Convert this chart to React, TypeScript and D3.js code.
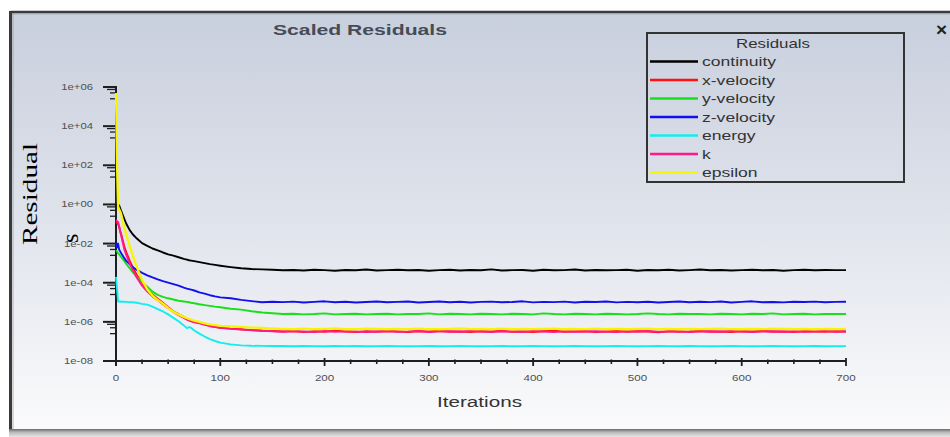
import React from 'react';
import * as d3 from 'd3';

// ---------- data ----------
const earlyIterations = [0, 1, 2, 3, 4, 5, 8, 10, 13, 16, 20, 25, 30, 35, 40, 45, 50, 55, 60, 65, 68, 70, 72, 75, 80, 85, 90, 95];
const lateIterations = [
  100, 110, 120, 130, 140, 150, 160, 170, 180, 190, 200, 210, 220, 230, 240, 250,
  260, 270, 280, 290, 300, 310, 320, 330, 340, 350, 360, 370, 380, 390, 400, 410,
  420, 430, 440, 450, 460, 470, 480, 490, 500, 510, 520, 530, 540, 550, 560, 570,
  580, 590, 600, 610, 620, 630, 640, 650, 660, 670, 680, 690, 700,
];

const continuityEarly = [0.89, 0.95, 1.0, 0.89, 0.63, 0.45, 0.18, 0.1, 0.05, 0.03, 0.018, 0.0105, 0.0076, 0.0056, 0.0045, 0.0035, 0.0028, 0.0024, 0.002, 0.00166, 0.0015, 0.0014, 0.00135, 0.00126, 0.00112, 0.001, 0.00089, 0.00081];
const continuityLate = [
  7.4e-4, 6.3e-4, 5.5e-4, 5.0e-4, 4.8e-4, 4.6e-4,
  4.3e-4, 4.5e-4, 4.2e-4, 4.6e-4, 4.4e-4, 4.1e-4, 4.5e-4, 4.3e-4, 4.7e-4, 4.2e-4,
  4.4e-4, 4.6e-4, 4.3e-4, 4.5e-4, 4.1e-4, 4.4e-4, 4.6e-4, 4.2e-4, 4.5e-4, 4.3e-4,
  4.8e-4, 4.2e-4, 4.4e-4, 4.5e-4, 4.1e-4, 4.6e-4, 4.3e-4, 4.4e-4, 4.7e-4, 4.2e-4,
  4.5e-4, 4.3e-4, 4.4e-4, 4.6e-4, 4.1e-4, 4.5e-4, 4.3e-4, 4.6e-4, 4.2e-4, 4.4e-4,
  4.7e-4, 4.3e-4, 4.5e-4, 4.2e-4, 4.4e-4, 4.6e-4, 4.3e-4, 4.5e-4, 4.1e-4, 4.4e-4,
  4.6e-4, 4.3e-4, 4.5e-4, 4.4e-4, 4.4e-4,
];

const xVelocityEarly = [0.126, 0.112, 0.1, 0.07, 0.045, 0.03, 0.0071, 0.0035, 0.0014, 6.3e-4, 2.5e-4, 1.0e-4, 4.5e-5, 2.5e-5, 1.5e-5, 9.5e-6, 5.6e-6, 3.5e-6, 2.5e-6, 1.8e-6, 1.4e-6, 1.26e-6, 1.12e-6, 1.0e-6, 8.9e-7, 7.6e-7, 6.3e-7, 5.6e-7];
const xVelocityLate = [
  5.0e-7, 4.5e-7, 4.2e-7, 3.8e-7, 3.5e-7, 3.4e-7,
  3.2e-7, 3.4e-7, 3.0e-7, 3.3e-7, 3.1e-7, 3.5e-7, 3.2e-7, 3.0e-7, 3.3e-7, 3.1e-7,
  3.4e-7, 3.2e-7, 3.0e-7, 3.3e-7, 3.2e-7, 3.5e-7, 3.1e-7, 3.2e-7, 3.0e-7, 3.3e-7,
  3.2e-7, 3.4e-7, 3.1e-7, 3.2e-7, 3.0e-7, 3.3e-7, 3.5e-7, 3.1e-7, 3.2e-7, 3.3e-7,
  3.0e-7, 3.2e-7, 3.4e-7, 3.1e-7, 3.3e-7, 3.2e-7, 2.9e-7, 3.3e-7, 3.1e-7, 3.2e-7,
  3.4e-7, 3.1e-7, 3.2e-7, 3.0e-7, 3.3e-7, 3.2e-7, 3.4e-7, 3.1e-7, 3.2e-7, 3.0e-7,
  3.3e-7, 3.2e-7, 3.1e-7, 3.3e-7, 3.2e-7,
];

const yVelocityEarly = [4.5e-3, 4.0e-3, 3.2e-3, 2.8e-3, 2.4e-3, 2.0e-3, 1.26e-3, 8.9e-4, 5.6e-4, 3.5e-4, 2.0e-4, 1.05e-4, 6.3e-5, 3.5e-5, 2.4e-5, 1.9e-5, 1.6e-5, 1.38e-5, 1.2e-5, 1.1e-5, 1.05e-5, 1.0e-5, 9.5e-6, 8.9e-6, 7.9e-6, 7.2e-6, 6.6e-6, 6.0e-6];
const yVelocityLate = [
  5.6e-6, 4.7e-6, 4.2e-6, 3.5e-6, 3.0e-6, 2.75e-6,
  2.5e-6, 2.6e-6, 2.4e-6, 2.5e-6, 2.7e-6, 2.4e-6, 2.5e-6, 2.6e-6, 2.4e-6, 2.5e-6,
  2.6e-6, 2.4e-6, 2.5e-6, 2.5e-6, 2.7e-6, 2.4e-6, 2.6e-6, 2.5e-6, 2.4e-6, 2.6e-6,
  2.5e-6, 2.4e-6, 2.6e-6, 2.5e-6, 2.4e-6, 2.7e-6, 2.5e-6, 2.4e-6, 2.6e-6, 2.5e-6,
  2.4e-6, 2.6e-6, 2.5e-6, 2.4e-6, 2.5e-6, 2.7e-6, 2.5e-6, 2.4e-6, 2.6e-6, 2.5e-6,
  2.5e-6, 2.4e-6, 2.6e-6, 2.5e-6, 2.4e-6, 2.6e-6, 2.5e-6, 2.7e-6, 2.4e-6, 2.5e-6,
  2.6e-6, 2.4e-6, 2.5e-6, 2.5e-6, 2.5e-6,
];

const zVelocityEarly = [1.1e-2, 6.3e-3, 1.0e-2, 5.0e-3, 4.0e-3, 3.2e-3, 1.8e-3, 1.26e-3, 8.9e-4, 6.3e-4, 4.5e-4, 3.2e-4, 2.4e-4, 1.86e-4, 1.48e-4, 1.2e-4, 1.02e-4, 8.5e-5, 7.1e-5, 5.6e-5, 5.0e-5, 4.7e-5, 4.4e-5, 4.0e-5, 3.2e-5, 2.75e-5, 2.3e-5, 2.0e-5];
const zVelocityLate = [
  1.78e-5, 1.6e-5, 1.32e-5, 1.15e-5, 1.0e-5, 1.07e-5,
  1.02e-5, 1.08e-5, 0.98e-5, 1.05e-5, 1.12e-5, 1.0e-5, 1.06e-5, 0.97e-5, 1.04e-5, 1.1e-5,
  1.0e-5, 1.05e-5, 1.09e-5, 0.98e-5, 1.04e-5, 1.1e-5, 1.01e-5, 1.06e-5, 0.97e-5, 1.05e-5,
  1.08e-5, 1.0e-5, 1.04e-5, 1.12e-5, 0.99e-5, 1.05e-5, 1.02e-5, 1.08e-5, 0.98e-5, 1.06e-5,
  1.03e-5, 1.1e-5, 0.99e-5, 1.05e-5, 1.01e-5, 1.07e-5, 0.97e-5, 1.04e-5, 1.09e-5, 1.0e-5,
  1.06e-5, 1.02e-5, 1.1e-5, 0.98e-5, 1.05e-5, 1.12e-5, 1.0e-5, 1.04e-5, 0.99e-5, 1.07e-5,
  1.03e-5, 1.08e-5, 1.0e-5, 1.05e-5, 1.06e-5,
];

const energyEarly = [2.0e-4, 5.0e-5, 1.12e-5, 1.1e-5, 1.1e-5, 1.07e-5, 1.07e-5, 1.05e-5, 1.02e-5, 1.0e-5, 9.5e-6, 8.3e-6, 7.6e-6, 6.0e-6, 4.5e-6, 3.4e-6, 2.4e-6, 1.6e-6, 1.07e-6, 6.6e-7, 4.8e-7, 5.4e-7, 5.0e-7, 3.6e-7, 2.5e-7, 1.78e-7, 1.32e-7, 1.05e-7];
const energyLate = [
  8.7e-8, 7.1e-8, 6.3e-8, 6.0e-8, 5.9e-8, 5.8e-8,
  5.8e-8, 5.7e-8, 5.8e-8, 5.75e-8, 5.7e-8, 5.8e-8, 5.75e-8, 5.8e-8, 5.7e-8, 5.75e-8,
  5.8e-8, 5.75e-8, 5.7e-8, 5.75e-8, 5.8e-8, 5.7e-8, 5.75e-8, 5.8e-8, 5.75e-8, 5.7e-8,
  5.75e-8, 5.8e-8, 5.7e-8, 5.75e-8, 5.8e-8, 5.75e-8, 5.7e-8, 5.75e-8, 5.8e-8, 5.75e-8,
  5.7e-8, 5.75e-8, 5.8e-8, 5.75e-8, 5.7e-8, 5.75e-8, 5.8e-8, 5.75e-8, 5.7e-8, 5.8e-8,
  5.75e-8, 5.7e-8, 5.75e-8, 5.8e-8, 5.75e-8, 5.7e-8, 5.75e-8, 5.8e-8, 5.75e-8, 5.7e-8,
  5.75e-8, 5.8e-8, 5.7e-8, 5.75e-8, 5.75e-8,
];

const kEarly = [0.16, 0.14, 0.126, 0.079, 0.04, 0.025, 0.005, 0.0025, 0.001, 4.5e-4, 1.78e-4, 7.1e-5, 3.5e-5, 2.0e-5, 1.26e-5, 8.0e-6, 5.0e-6, 3.2e-6, 2.2e-6, 1.6e-6, 1.3e-6, 1.17e-6, 1.07e-6, 9.5e-7, 8.3e-7, 7.1e-7, 6.0e-7, 5.4e-7];
const kLate = [
  4.9e-7, 4.4e-7, 4.0e-7, 3.7e-7, 3.5e-7, 3.3e-7,
  3.1e-7, 3.3e-7, 3.2e-7, 3.0e-7, 3.4e-7, 3.1e-7, 3.3e-7, 3.2e-7, 3.0e-7, 3.2e-7,
  3.3e-7, 3.1e-7, 3.2e-7, 3.4e-7, 3.0e-7, 3.2e-7, 3.3e-7, 3.1e-7, 3.4e-7, 3.2e-7,
  3.0e-7, 3.3e-7, 3.2e-7, 3.1e-7, 3.4e-7, 3.2e-7, 3.0e-7, 3.3e-7, 3.1e-7, 3.2e-7,
  3.3e-7, 3.1e-7, 3.0e-7, 3.3e-7, 3.2e-7, 3.4e-7, 3.1e-7, 3.2e-7, 3.3e-7, 3.0e-7,
  3.2e-7, 3.3e-7, 3.1e-7, 3.4e-7, 3.2e-7, 3.0e-7, 3.2e-7, 3.3e-7, 3.1e-7, 3.3e-7,
  3.1e-7, 3.2e-7, 3.4e-7, 3.1e-7, 3.2e-7,
];

const epsilonEarly = [5.0e5, 100, 0.8, 0.56, 0.45, 0.32, 0.063, 0.028, 0.0079, 0.0025, 6.3e-4, 1.4e-4, 4.5e-5, 2.2e-5, 1.3e-5, 8.5e-6, 5.0e-6, 3.3e-6, 2.4e-6, 1.8e-6, 1.55e-6, 1.4e-6, 1.3e-6, 1.17e-6, 1.0e-6, 8.3e-7, 7.4e-7, 6.8e-7];
const epsilonLate = [
  6.3e-7, 5.9e-7, 5.5e-7, 5.1e-7, 4.9e-7, 4.7e-7,
  4.4e-7, 4.2e-7, 4.5e-7, 4.3e-7, 4.4e-7, 4.6e-7, 4.2e-7, 4.3e-7, 4.5e-7, 4.4e-7,
  4.2e-7, 4.4e-7, 4.3e-7, 4.5e-7, 4.3e-7, 4.2e-7, 4.4e-7, 4.6e-7, 4.3e-7, 4.4e-7,
  4.3e-7, 4.5e-7, 4.2e-7, 4.4e-7, 4.3e-7, 4.4e-7, 4.5e-7, 4.2e-7, 4.4e-7, 4.3e-7,
  4.5e-7, 4.3e-7, 4.4e-7, 4.2e-7, 4.4e-7, 4.5e-7, 4.3e-7, 4.4e-7, 4.2e-7, 4.4e-7,
  4.3e-7, 4.4e-7, 4.5e-7, 4.3e-7, 4.2e-7, 4.4e-7, 4.3e-7, 4.5e-7, 4.4e-7, 4.3e-7,
  4.4e-7, 4.2e-7, 4.4e-7, 4.3e-7, 4.4e-7,
];

const seriesNames = ['continuity', 'x-velocity', 'y-velocity', 'z-velocity', 'energy', 'k', 'epsilon'];
const seriesColors = ['#000000', '#ff1010', '#18e018', '#1010f0', '#10eeee', '#ff1a8c', '#f6f600'];
const seriesEarly = [continuityEarly, xVelocityEarly, yVelocityEarly, zVelocityEarly, energyEarly, kEarly, epsilonEarly];
const seriesLate = [continuityLate, xVelocityLate, yVelocityLate, zVelocityLate, energyLate, kLate, epsilonLate];

const yTickValues = [1e6, 1e4, 1e2, 1e0, 1e-2, 1e-4, 1e-6, 1e-8];
const yTickLabels = ['1e+06', '1e+04', '1e+02', '1e+00', '1e-02', '1e-04', '1e-06', '1e-08'];
const xTickValues = [0, 100, 200, 300, 400, 500, 600, 700];
const xMinorValues = [25, 50, 75, 125, 150, 175, 225, 250, 275, 325, 350, 375, 425, 450, 475, 525, 550, 575, 625, 650, 675];
const yMinorFactors = [0.75, 0.5, 0.25];

const W = 950;
const H = 437;
const SX = 1.35; // horizontal text stretch seen in the reference

export default function App() {
  const x = d3.scaleLinear().domain([0, 700]).range([116, 846]);
  const y = d3.scaleLog().domain([1e-8, 1e6]).range([361, 87]);
  const line = d3
    .line<[number, number]>()
    .x((d) => x(d[0]))
    .y((d) => y(d[1]));

  const series = seriesNames.map((name, i) => {
    const pts: [number, number][] = [];
    earlyIterations.forEach((it, j) => pts.push([it, seriesEarly[i][j]]));
    lateIterations.forEach((it, j) => {
      if (j < seriesLate[i].length) pts.push([it, seriesLate[i][j]]);
    });
    return { name, color: seriesColors[i], pts };
  });

  const legendX = 647;
  const legendY = 33;
  const rowH = 18.5;

  return (
    <svg
      width={W}
      height={H}
      viewBox={`0 0 ${W} ${H}`}
      style={{ position: 'absolute', left: 0, top: 0, display: 'block' }}
      fontFamily="'Liberation Sans', Arial, sans-serif"
    >
      <defs>
        <linearGradient id="bg" x1="0" y1="0" x2="0" y2="1">
          <stop offset="0%" stopColor="#c8cfdd" />
          <stop offset="45%" stopColor="#dde1ea" />
          <stop offset="100%" stopColor="#fbfbfc" />
        </linearGradient>
        <linearGradient id="bottomBand" x1="0" y1="0" x2="0" y2="1">
          <stop offset="0%" stopColor="#6a6a6a" />
          <stop offset="40%" stopColor="#b8b8b8" />
          <stop offset="100%" stopColor="#e6e6e6" />
        </linearGradient>
      </defs>
      <rect x={0} y={0} width={W} height={H} fill="#ffffff" />
      {/* frame */}
      <rect x={10.5} y={12} width={W} height={418} fill="url(#bg)" />
      <line x1={10.5} x2={W} y1={12} y2={12} stroke="#3a3a3a" strokeWidth={2.5} />
      <line x1={10.5} x2={10.5} y1={11} y2={431} stroke="#3a3a3a" strokeWidth={3} />
      <line x1={13} x2={13} y1={13} y2={429} stroke="#9a9a9a" strokeWidth={1.2} opacity={0.6} />
      <line x1={12} x2={W} y1={14} y2={14} stroke="#9aa0aa" strokeWidth={1.2} opacity={0.6} />
      <rect x={9} y={429} width={W} height={8} fill="url(#bottomBand)" />

      {/* title */}
      <text
        x={360}
        y={35}
        textAnchor="middle"
        fontSize={14}
        fontWeight="bold"
        fill="#454b57"
        textLength={174}
        lengthAdjust="spacingAndGlyphs"
      >
        Scaled Residuals
      </text>
      <text x={936} y={36} fontSize={19} fill="#222" fontWeight="bold">×</text>

      {/* y axis */}
      <line x1={x(0)} x2={x(0)} y1={86} y2={366} stroke="#1e1e1e" strokeWidth={2} />
      {yTickValues.map((v, i) => (
        <g key={'yt' + i}>
          <line x1={103} x2={x(0)} y1={y(v)} y2={y(v)} stroke="#1e1e1e" strokeWidth={2} />
          {i < yTickValues.length - 1 &&
            yMinorFactors.map((f, k) => (
              <line
                key={k}
                x1={k === 0 ? 107 : 110}
                x2={x(0)}
                y1={y(v * f)}
                y2={y(v * f)}
                stroke="#1e1e1e"
                strokeWidth={1.3}
              />
            ))}
          <text
            transform={`translate(93,${y(v) + 3}) scale(${SX},1)`}
            textAnchor="end"
            fontSize={8.4}
            fill="#505050"
          >
            {yTickLabels[i]}
          </text>
        </g>
      ))}

      {/* x axis */}
      <line x1={x(0)} x2={x(700)} y1={361} y2={361} stroke="#1e1e1e" strokeWidth={2} />
      {xMinorValues.map((v) => (
        <line key={'xm' + v} x1={x(v)} x2={x(v)} y1={359.5} y2={364} stroke="#1e1e1e" strokeWidth={1.6} />
      ))}
      {xTickValues.map((v) => (
        <g key={'xt' + v}>
          <line x1={x(v)} x2={x(v)} y1={358} y2={366} stroke="#1e1e1e" strokeWidth={1.8} />
          <text
            transform={`translate(${x(v)},381) scale(${SX},1)`}
            textAnchor="middle"
            fontSize={8.6}
            fill="#505050"
          >
            {v}
          </text>
        </g>
      ))}
      <text
        x={479.5}
        y={407}
        textAnchor="middle"
        fontSize={15.3}
        fill="#333"
        textLength={85}
        lengthAdjust="spacingAndGlyphs"
      >
        Iterations
      </text>

      {/* y label (serif overlay) */}
      <text
        transform="translate(37,245) rotate(-90)"
        fontFamily="'Liberation Serif', 'Times New Roman', serif"
        fontSize={21}
        fill="#000"
        textLength={102}
        lengthAdjust="spacingAndGlyphs"
      >
        Residual
      </text>
      <text
        transform="translate(78,243) rotate(-90)"
        fontFamily="'Liberation Serif', 'Times New Roman', serif"
        fontSize={24}
        fill="#000"
      >
        s
      </text>

      {/* series */}
      {series.map((s) => (
        <path
          key={s.name}
          d={line(s.pts) || ''}
          fill="none"
          stroke={s.color}
          strokeWidth={s.name === 'epsilon' ? 2.3 : 1.9}
          strokeLinejoin="round"
        />
      ))}

      {/* legend */}
      <rect
        x={legendX}
        y={legendY}
        width={257}
        height={149}
        fill="none"
        stroke="#333"
        strokeWidth={2}
      />
      <text
        transform={`translate(773,48) scale(${SX},1)`}
        textAnchor="middle"
        fontSize={12.5}
        fill="#333"
      >
        Residuals
      </text>
      {series.map((s, i) => {
        const ry = 61.5 + i * rowH;
        return (
          <g key={'lg' + s.name}>
            <line x1={650} x2={698} y1={ry} y2={ry} stroke={s.color} strokeWidth={2.4} />
            <text
              transform={`translate(702,${ry + 4.5}) scale(${SX},1)`}
              fontSize={13}
              fill="#333"
            >
              {s.name}
            </text>
          </g>
        );
      })}
    </svg>
  );
}
